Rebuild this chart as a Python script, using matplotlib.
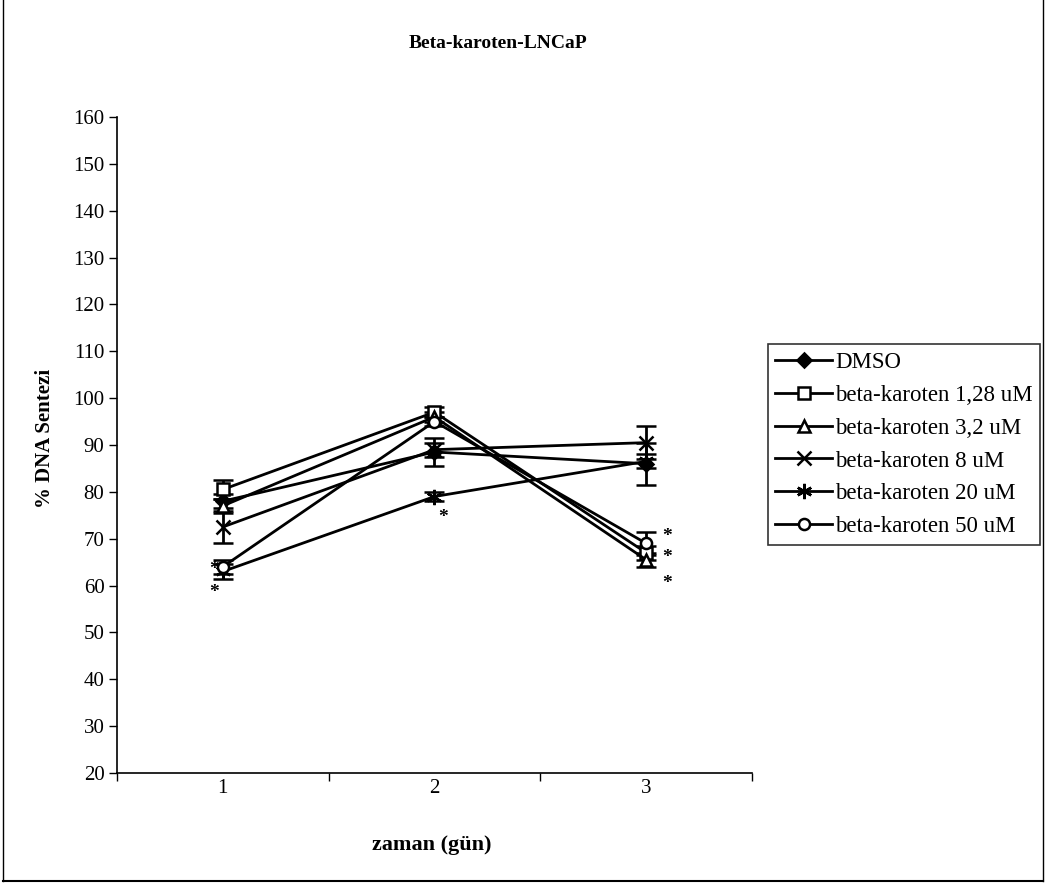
import matplotlib.pyplot as plt
from matplotlib.lines import Line2D

plt.rcParams['font.family'] = ['Liberation Serif', 'DejaVu Serif']

# veriler
gun = [1, 2, 3]
dmso = [78, 88.5, 86]
bk_128 = [80.5, 97, 67]
bk_32 = [77, 96, 65.5]
bk_8 = [72.5, 89, 90.5]
bk_20 = [63, 79, 86.5]
bk_50 = [64, 95, 69]

err_dmso = [1.5, 3, 4.5]
err_128 = [2, 1, 1.5]
err_32 = [1.5, 1, 1.5]
err_8 = [3.5, 1.5, 3.5]
err_20 = [1.5, 1, 1.5]
err_50 = [1.5, 1, 2.5]

etiketler = ['DMSO', 'beta-karoten 1,28 uM', 'beta-karoten 3,2 uM',
             'beta-karoten 8 uM', 'beta-karoten 20 uM', 'beta-karoten 50 uM']

# anlamlilik yildizlari (x, y)
yildiz_x = [0.94, 0.94, 2.02, 3.08, 3.08, 3.08]
yildiz_y = [63.5, 58.5, 74.5, 70.5, 66, 60.5]

fig = plt.figure(figsize=(10.5, 8.85), dpi=100)
ax = fig.add_axes([0.1114, 0.1266, 0.6048, 0.7412])

seriler = [dmso, bk_128, bk_32, bk_8, bk_20, bk_50]
hatalar = [err_dmso, err_128, err_32, err_8, err_20, err_50]
markerler = ['D', 's', '^', 'x', (6, 2, 0), 'o']
dolgu = ['black', 'white', 'white', 'black', 'black', 'white']
boyut = [7, 8, 8, 10, 11, 8]

for y, e, m, fc, ms, lab in zip(seriler, hatalar, markerler, dolgu, boyut, etiketler):
    ax.errorbar(gun, y, yerr=e, color='black', linewidth=2, marker=m,
                markersize=ms, markerfacecolor=fc, markeredgecolor='black',
                markeredgewidth=1.8, capsize=7, capthick=2, elinewidth=2,
                label=lab)

for xx, yy in zip(yildiz_x, yildiz_y):
    ax.text(xx + 0.02, yy, '*', fontsize=14, fontweight='bold',
            ha='center', va='center')

ax.set_xlim(0.5, 3.5)
ax.set_ylim(20, 160)
ax.set_yticks(range(20, 161, 10))
ax.set_xticks([0.5, 1.5, 2.5, 3.5])
ax.set_xticklabels([])
ax.set_xticks(gun, minor=True)
ax.set_xticklabels(['1', '2', '3'], minor=True)
ax.tick_params(axis='x', which='minor', length=0, pad=4, labelsize=15)
ax.tick_params(axis='x', which='major', length=6, width=1, direction='out')
ax.tick_params(axis='y', length=6, width=1, direction='out', labelsize=15,
               pad=3)

for s in ['top', 'right']:
    ax.spines[s].set_visible(False)
ax.spines['left'].set_linewidth(1.2)
ax.spines['bottom'].set_linewidth(1.2)

fig.text(0.474, 0.951, 'Beta-karoten-LNCaP', fontsize=14, fontweight='bold',
         ha='center', va='center')
fig.text(0.411, 0.045, 'zaman (gün)', fontsize=16, fontweight='bold',
         ha='center', va='center')
fig.text(0.043, 0.505, '% DNA Sentezi', fontsize=15, fontweight='bold',
         ha='center', va='center', rotation=90)

# lejant
tutamaclar = []
for m, fc, ms in zip(markerler, dolgu, boyut):
    tutamaclar.append(Line2D([0], [0], color='black', linewidth=2, marker=m,
                             markersize=ms, markerfacecolor=fc,
                             markeredgecolor='black', markeredgewidth=1.8))
leg = fig.legend(tutamaclar, etiketler, loc='upper left',
                 bbox_to_anchor=(0.731, 0.611), fontsize=16.5, frameon=True,
                 fancybox=False, edgecolor='black', handlelength=2.5,
                 handletextpad=0.12, labelspacing=0.52, borderpad=0.32,
                 borderaxespad=0)
leg.get_frame().set_linewidth(1.2)

# cerceve
fig.add_artist(Line2D([0.003, 0.003], [0.005, 1.0], color='black', linewidth=1,
                      transform=fig.transFigure))
fig.add_artist(Line2D([0.993, 0.993], [0.005, 1.0], color='black', linewidth=1,
                      transform=fig.transFigure))
fig.add_artist(Line2D([0.003, 0.993], [0.005, 0.005], color='black', linewidth=1.5,
                      transform=fig.transFigure))

fig.savefig('out.png', dpi=100)
